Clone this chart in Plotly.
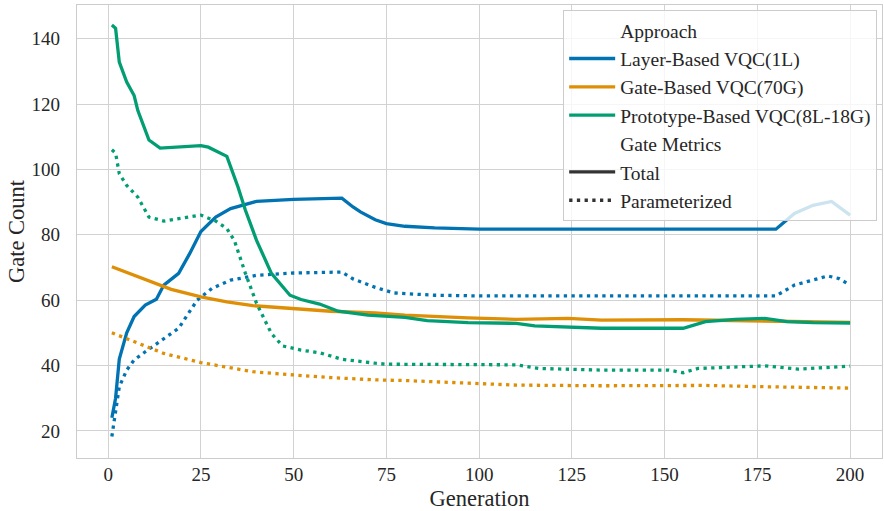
import plotly.graph_objects as go

# ---------------- data ----------------
layer_total_gen = [1, 2, 3, 5, 7, 10, 13, 15, 19, 22, 25, 29, 33, 40, 50, 63, 66, 68, 72, 75, 80, 88, 100, 130, 180, 185, 190, 195, 200]
layer_total_val = [24, 30, 42, 50, 55, 58.5, 60.3, 64.6, 68.2, 74.3, 81, 85.4, 88, 90.2, 90.8, 91.2, 88.5, 87, 84.6, 83.4, 82.6, 82.1, 81.7, 81.7, 81.7, 86.5, 89, 90.2, 86]

layer_param_gen = [1, 2, 3, 5, 7, 10, 15, 19, 24, 28, 33, 40, 50, 63, 66, 70, 72, 77, 88, 100, 180, 185, 190, 194, 197, 200]
layer_param_val = [18.3, 25.4, 33.5, 38.6, 41.7, 44.2, 48.3, 51.4, 60, 63.6, 66.1, 67.6, 68.3, 68.6, 66.5, 64.6, 63.9, 62.2, 61.5, 61.3, 61.3, 64.6, 66.3, 67.4, 66.6, 64.6]

gate_total_gen = [1, 7, 15, 17, 25, 32, 39, 50, 60, 72, 80, 97, 110, 124, 133, 155, 177, 200]
gate_total_val = [70.2, 67.6, 64.3, 63.3, 61, 59.5, 58.3, 57.3, 56.6, 56.1, 55.4, 54.6, 54.1, 54.4, 53.9, 54, 53.6, 53.2]

gate_param_gen = [1, 7, 15, 25, 39, 50, 60, 72, 80, 97, 110, 133, 161, 177, 200]
gate_param_val = [50, 47.3, 43.7, 40.9, 38.1, 37.1, 36.3, 35.6, 35.4, 34.6, 34, 33.8, 33.9, 33.5, 33.1]

proto_total_gen = [1, 2, 3, 5, 7, 8, 11, 14, 25, 27, 32, 35, 37, 40, 44, 49, 52, 57, 62, 70, 80, 86, 97, 110, 115, 133, 155, 161, 169, 177, 183, 190, 200]
proto_total_val = [144.2, 143.2, 132.8, 126.7, 122.6, 118, 109, 106.5, 107.3, 106.8, 104, 94.6, 87.5, 78.3, 68.2, 61.5, 60.2, 58.8, 56.6, 55.4, 54.7, 53.7, 53.1, 52.9, 52.1, 51.4, 51.4, 53.4, 54.1, 54.4, 53.4, 53.1, 53]

proto_param_gen = [1, 2, 3, 5, 8, 11, 15, 25, 29, 32, 34, 37, 40, 44, 47, 52, 57, 63, 72, 75, 110, 116, 133, 151, 155, 159, 177, 186, 200]
proto_param_val = [106, 105, 98.7, 95.1, 91.5, 85.4, 84.2, 86, 84.2, 81.9, 78.3, 68.2, 59, 49.8, 46, 44.7, 43.9, 41.9, 40.7, 40.4, 40.2, 39.1, 38.6, 38.6, 37.8, 39.1, 39.9, 38.9, 39.8]

approaches = ["Layer-Based VQC(1L)", "Gate-Based VQC(70G)", "Prototype-Based VQC(8L-18G)"]
metrics = ["Total", "Parameterized"]
x_ticks = [0, 25, 50, 75, 100, 125, 150, 175, 200]
y_ticks = [20, 40, 60, 80, 100, 120, 140]

# ---------------- styling ----------------
colors = ["#0173b2", "#de8f05", "#029e73"]
LW = 3.3
DOT = "3.3px,4.4px"
FONT = "Liberation Serif"
TEXT = "#262626"

series = [
    (layer_total_gen, layer_total_val, 0, "solid"),
    (layer_param_gen, layer_param_val, 0, DOT),
    (gate_total_gen, gate_total_val, 1, "solid"),
    (gate_param_gen, gate_param_val, 1, DOT),
    (proto_total_gen, proto_total_val, 2, "solid"),
    (proto_param_gen, proto_param_val, 2, DOT),
]

fig = go.Figure()
for gx, gy, ci, dash in series:
    fig.add_trace(go.Scatter(x=gx, y=gy, mode="lines", showlegend=False,
                             line=dict(color=colors[ci], width=LW, dash=dash)))

# legend entries
def legend_entry(name, color, dash="solid"):
    fig.add_trace(go.Scatter(x=[None], y=[None], mode="lines", name=name,
                             line=dict(color=color, width=LW, dash=dash)))

legend_entry("Approach", "rgba(0,0,0,0)")
for name, c in zip(approaches, colors):
    legend_entry(name, c)
legend_entry("Gate Metrics", "rgba(0,0,0,0)")
legend_entry(metrics[0], "#333333")
legend_entry(metrics[1], "#333333", DOT)

axis_common = dict(showgrid=True, gridcolor="#d2d2d2", gridwidth=1,
                   showline=True, linecolor="#cccccc", linewidth=1.3, mirror=True,
                   zeroline=False, ticks="", automargin=False,
                   tickfont=dict(family=FONT, size=19, color=TEXT))

fig.update_layout(
    width=884, height=511,
    margin=dict(l=77, r=2, t=5, b=53),
    paper_bgcolor="white", plot_bgcolor="white",
    font=dict(family=FONT, color=TEXT),
    xaxis=dict(range=[-8.4, 208.6], tickvals=x_ticks,
               title=dict(text="Generation", font=dict(family=FONT, size=22.5, color=TEXT), standoff=6),
               ticklabelstandoff=-1, **axis_common),
    yaxis=dict(range=[11.7, 150.3], tickvals=y_ticks,
               title=dict(text="Gate Count", font=dict(family=FONT, size=22.5, color=TEXT), standoff=0),
               ticklabelstandoff=12, **axis_common),
    legend=dict(x=0.994, y=0.989, xanchor="right", yanchor="top",
                bgcolor="rgba(255,255,255,0.8)", bordercolor="#cccccc", borderwidth=1,
                font=dict(family=FONT, size=19.5, color=TEXT),
                itemwidth=46, tracegroupgap=0, itemclick=False),
)

fig.write_html("out.html", config={"displayModeBar": False},
               post_script="document.body.style.margin='0';")
